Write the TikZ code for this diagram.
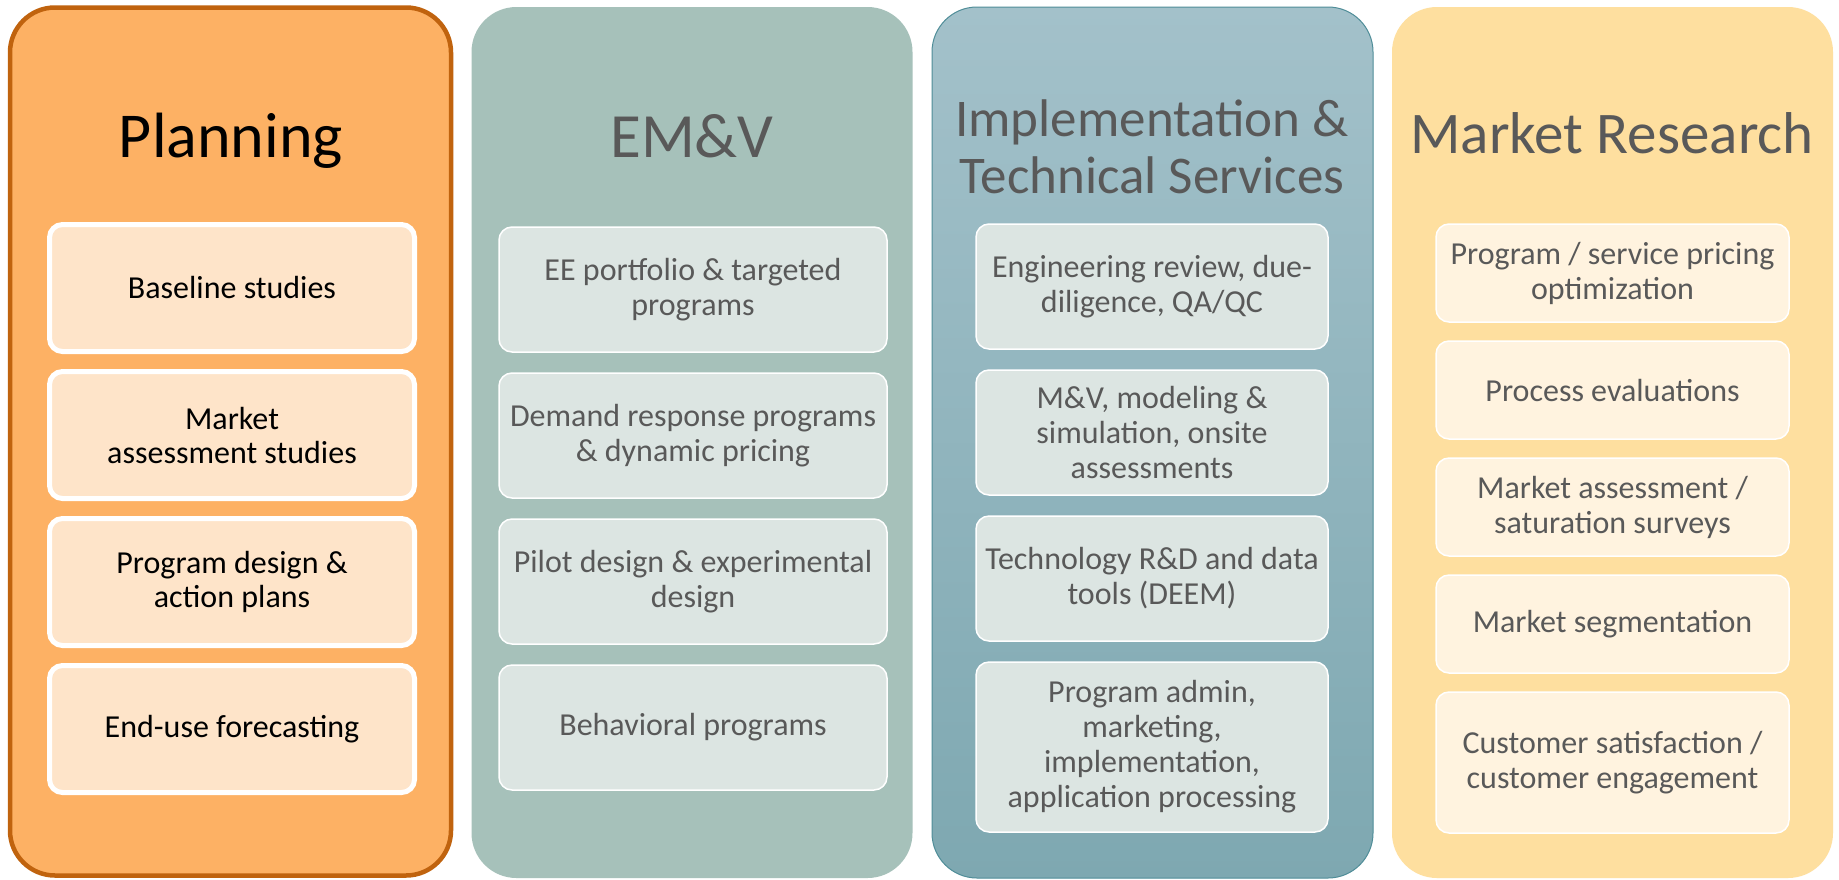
\documentclass[tikz,border=0pt]{standalone}
\usepackage{fontspec}
\setmainfont{Carlito}
\usetikzlibrary{positioning}
\definecolor{planFill}{HTML}{FDB164}
\definecolor{planLine}{HTML}{C0630E}
\definecolor{planBox}{HTML}{FEE4C9}
\definecolor{emvFill}{HTML}{A6C1BA}
\definecolor{tealBox}{HTML}{DCE5E2}
\definecolor{implTop}{HTML}{A3C1CA}
\definecolor{implBot}{HTML}{7EA8B1}
\definecolor{implLine}{HTML}{4F8D98}
\definecolor{mrFill}{HTML}{FEDF9F}
\definecolor{mrBox}{HTML}{FFF3DF}
\definecolor{txtGray}{HTML}{595959}

\begin{document}
\begin{tikzpicture}[x=1pt,y=-1pt,
 col/.style={rounded corners=45pt,minimum width=441pt,minimum height=871pt,inner sep=0pt},
 ttl/.style={anchor=base,align=center,text=txtGray},
 item/.style={rounded corners=13pt,draw=white,align=center,inner sep=0pt,outer sep=0pt,text=txtGray,font=\fontsize{32}{35}\selectfont},
 pitem/.style={item,line width=5pt,fill=planBox,text=black,minimum width=365pt,minimum height=127pt,font=\fontsize{32}{34}\selectfont},
 eitem/.style={item,line width=1.5pt,fill=tealBox,minimum width=388pt,minimum height=125pt},
 iitem/.style={item,line width=1.5pt,fill=tealBox,minimum width=352pt,minimum height=125pt},
 mitem/.style={item,line width=1.5pt,fill=mrBox,minimum width=353pt,minimum height=98pt}]
\useasboundingbox (0,0) rectangle (1839,879);
\fill[white] (0,0) rectangle (1839,879);
% columns
\node[col,fill=planFill,draw=planLine,line width=4.5pt,minimum height=868pt] (plan) at (230.5,441.5) {};
\node[col,fill=emvFill] (emv) at (692,442.5) {};
\node[col,top color=implTop,bottom color=implBot,draw=implLine,line width=1pt] (impl) at (1152.5,442.5) {};
\node[col,fill=mrFill] (mr) at (1612.5,442.5) {};
% titles
\node[ttl,text=black,font=\fontsize{64}{64}\selectfont] (planT) at (231,157) {Planning};
\node[ttl,font=\fontsize{63}{63}\selectfont] (emvT) at (692,157) {EM\&V};
\node[ttl,font=\fontsize{53}{57}\selectfont] (implT) at (1152,193) {Implementation \&\\Technical Services};
\node[ttl,font=\fontsize{59}{59}\selectfont] (mrT) at (1612,153) {Market Research};
% planning
\node[pitem] (p1) at (232,288) {Baseline studies};
\node[pitem,below=20pt of p1] (p2) {Market\\assessment studies};
\node[pitem,below=20pt of p2] (p3) {Program design \&\\action plans};
\node[pitem,below=20pt of p3] (p4) {End-use forecasting};
% em&v
\node[eitem] (e1) at (693,289.5) {EE portfolio \& targeted\\programs};
\node[eitem,below=21pt of e1] (e2) {Demand response programs\\\& dynamic pricing};
\node[eitem,below=21pt of e2] (e3) {Pilot design \& experimental\\design};
\node[eitem,below=21pt of e3] (e4) {Behavioral programs};
% implementation
\node[iitem] (i1) at (1152,286.5) {Engineering review, due-\\diligence, QA/QC};
\node[iitem,below=21pt of i1] (i2) {M\&V, modeling \&\\simulation, onsite\\assessments};
\node[iitem,below=21pt of i2] (i3) {Technology R\&D and data\\tools (DEEM)};
\node[iitem,below=21pt of i3,minimum height=170pt] (i4) {Program admin,\\marketing,\\implementation,\\application processing};
% market research
\node[mitem] (m1) at (1612.5,273) {Program / service pricing\\optimization};
\node[mitem,below=19pt of m1] (m2) {Process evaluations};
\node[mitem,below=19pt of m2] (m3) {Market assessment /\\saturation surveys};
\node[mitem,below=19pt of m3] (m4) {Market segmentation};
\node[mitem,below=19pt of m4,minimum height=141pt] (m5) {Customer satisfaction /\\customer engagement};
\end{tikzpicture}
\end{document}
